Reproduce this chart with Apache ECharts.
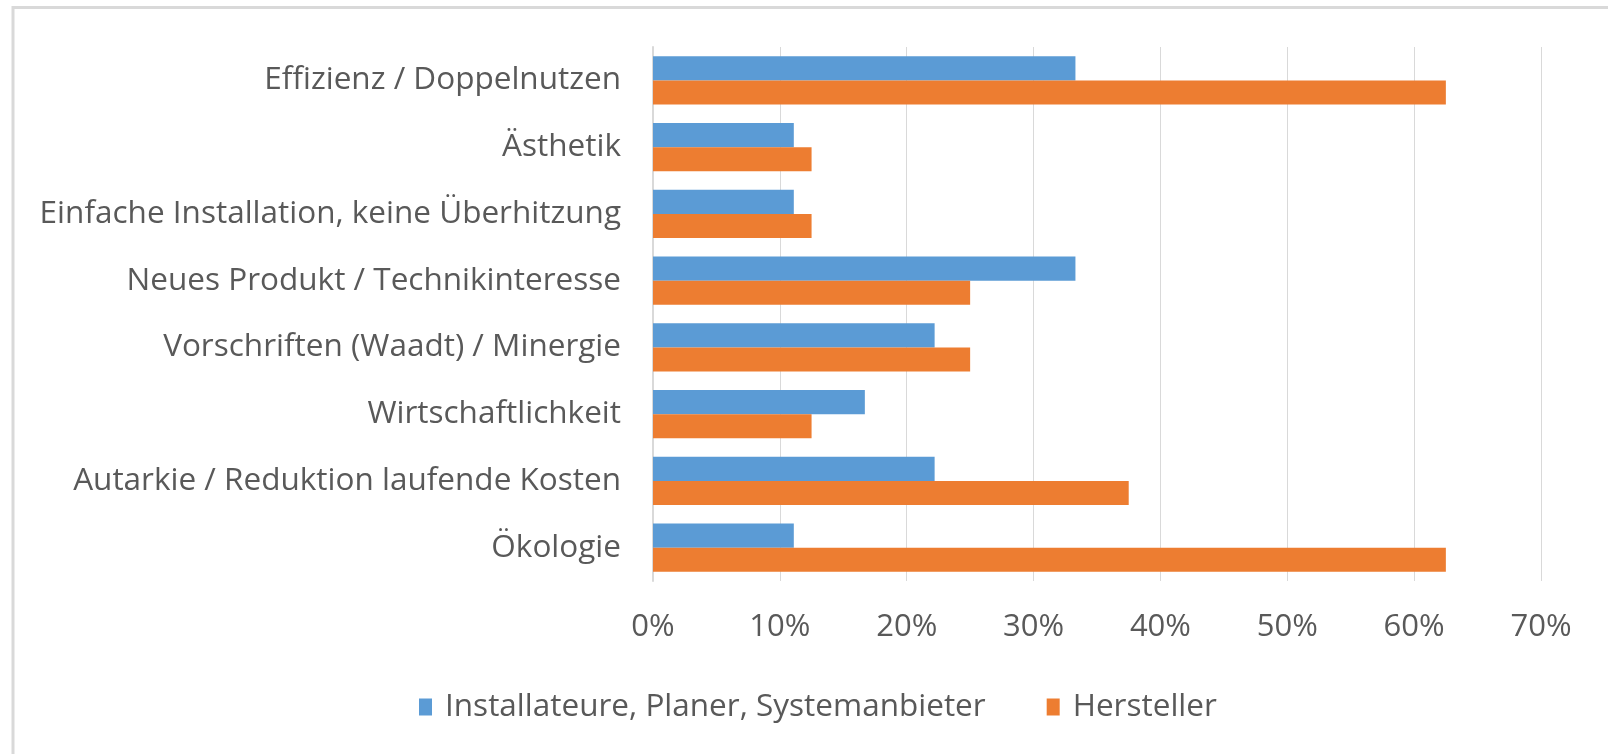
<!DOCTYPE html>
<html lang="de">
<head>
    <meta charset="UTF-8">
    <title>Motivation</title>
    <script src="https://cdn.jsdelivr.net/npm/echarts@6/dist/echarts.min.js"></script>
    <style>
        body { margin: 0; background: #fff; }
        #main { width: 1608px; height: 754px; }
    </style>
</head>
<body>
    <div id="main"></div>
    <script>
        // Kategorien von unten nach oben (ECharts zeichnet die y-Kategorien von unten)
        var categories = [
            'Ökologie',
            'Autarkie / Reduktion laufende Kosten',
            'Wirtschaftlichkeit',
            'Vorschriften (Waadt) / Minergie',
            'Neues Produkt / Technikinteresse',
            'Einfache Installation, keine Überhitzung',
            'Ästhetik',
            'Effizienz / Doppelnutzen'
        ];
        var seriesNames = ['Installateure, Planer, Systemanbieter', 'Hersteller'];
        var installateure = [11.1, 22.2, 16.7, 22.2, 33.3, 11.1, 11.1, 33.3];
        var hersteller = [62.5, 37.5, 12.5, 25.0, 25.0, 12.5, 12.5, 62.5];
        var xTicks = [0, 10, 20, 30, 40, 50, 60, 70];

        var labelFont = '"Open Sans", Lato, sans-serif';

        var option = {
            animation: false,
            textStyle: { fontFamily: labelFont },
            graphic: [{
                type: 'rect',
                shape: { x: 13, y: 7.5, width: 1620, height: 800 },
                style: { fill: 'none', stroke: '#d9d9d9', lineWidth: 3 }
            }],
            legend: {
                data: seriesNames,
                left: 414,
                top: 686,
                itemWidth: 13,
                itemHeight: 17,
                itemGap: 61,
                icon: 'rect',
                textStyle: {
                    color: '#595959',
                    fontSize: 31.5,
                    fontFamily: labelFont,
                    padding: [0, 0, 0, 8]
                }
            },
            grid: {
                left: 653,
                right: 67,
                top: 47,
                height: 534
            },
            xAxis: {
                type: 'value',
                min: xTicks[0],
                max: xTicks[xTicks.length - 1],
                interval: 10,
                axisLine: { show: false },
                axisTick: { show: false },
                splitLine: { lineStyle: { color: '#d9d9d9', width: 1 } },
                axisLabel: {
                    color: '#595959',
                    fontSize: 31,
                    margin: 31,
                    formatter: '{value}%'
                }
            },
            yAxis: {
                type: 'category',
                data: categories,
                axisLine: { lineStyle: { color: '#d9d9d9', width: 2 } },
                axisTick: { show: false },
                axisLabel: {
                    color: '#595959',
                    fontSize: 31.5,
                    margin: 32
                }
            },
            series: [{
                name: seriesNames[0],
                type: 'bar',
                data: installateure,
                itemStyle: { color: '#5b9bd5' },
                barGap: '0%',
                barCategoryGap: '28%'
            }, {
                name: seriesNames[1],
                type: 'bar',
                data: hersteller,
                itemStyle: { color: '#ed7d31' },
                barGap: '0%',
                barCategoryGap: '28%'
            }]
        };

        var myChart = echarts.init(document.getElementById('main'));
        myChart.setOption(option);
    </script>
</body>
</html>
